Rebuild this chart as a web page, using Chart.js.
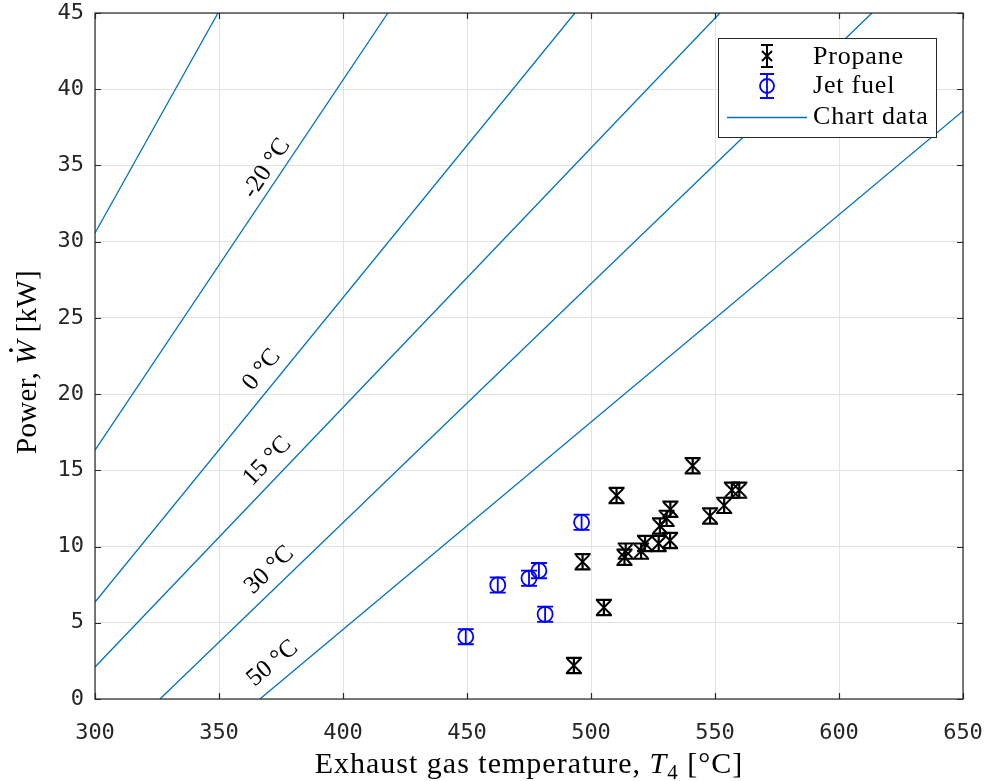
<!DOCTYPE html>
<html>
<head>
<meta charset="utf-8">
<script src="https://cdn.jsdelivr.net/npm/chart.js@4.4.0/dist/chart.umd.min.js"></script>
<style>
  html, body { margin: 0; padding: 0; background: #fff; }
</style>
</head>
<body>
<canvas id="chart" width="991" height="781"></canvas>
<script>
// Exhaust gas temperature [°C] and shaft power [kW] for each run
const propaneTemp  = [493.1, 505.2, 496.6, 510.3, 513.5, 514.0, 520.2, 521.8, 527.3, 531.9, 527.8, 530.5, 532.0, 541.0, 548.0, 553.7, 556.8, 559.8];
const propanePower = [2.2, 6.0, 9.0, 13.35, 9.3, 9.7, 9.7, 10.2, 10.2, 10.4, 11.35, 11.85, 12.45, 15.3, 12.0, 12.7, 13.7, 13.7];
const jetTemp  = [449.5, 462.4, 475.0, 479.0, 481.5, 496.2];
const jetPower = [4.09, 7.48, 7.92, 8.42, 5.56, 11.59];
const powerError = 0.5;

// Manufacturer chart lines, one per ambient temperature (start and end points)
const ambientLabels = ['', '-20 °C', '0 °C', '15 °C', '30 °C', '50 °C'];
const chartLineX = [[300, 349.6], [300, 418.1], [300, 493.5], [300, 552.0], [326.2, 613.3], [366.5, 650]];
const chartLineY = [[30.57, 45], [16.33, 45], [6.36, 45], [2.1, 45], [0, 45], [0, 38.57]];
// where the ambient temperature label of each line sits
const labelX = [null, 369.2, 367.2, 369.5, 370.3, 371.6];
const labelY = [null, 34.8, 21.6, 15.6, 8.46, 2.34];

const lineBlue = '#0072BD';
const axisGrey = '#262626';
const serif = '"Liberation Serif", "DejaVu Serif", serif';

const toPoints = (xs, ys) => xs.map((v, i) => ({ x: v, y: ys[i] }));

const datasets = [
  {
    label: 'Propane',
    data: toPoints(propaneTemp, propanePower),
    pointStyle: 'crossRot',
    pointRadius: 9.5,
    borderColor: '#000',
    backgroundColor: '#000',
    pointBorderWidth: 2,
    errorBars: powerError,
    errorWidth: 2.2
  },
  {
    label: 'Jet fuel',
    data: toPoints(jetTemp, jetPower),
    pointStyle: 'circle',
    pointRadius: 7.5,
    borderColor: '#0000ff',
    backgroundColor: 'rgba(0,0,0,0)',
    pointBorderWidth: 1.8,
    errorBars: powerError,
    errorWidth: 1.8
  }
];

chartLineX.forEach((xs, i) => {
  datasets.push({
    label: 'Chart data',
    data: toPoints(xs, chartLineY[i]),
    showLine: true,
    pointRadius: 0,
    borderColor: lineBlue,
    borderWidth: 1.3,
    fill: false
  });
});

const errorBarPlugin = {
  id: 'errorBars',
  afterDatasetsDraw(chart) {
    const { ctx, scales: { x, y } } = chart;
    chart.data.datasets.forEach(ds => {
      if (!ds.errorBars) return;
      ctx.save();
      ctx.strokeStyle = ds.borderColor;
      ctx.lineWidth = ds.errorWidth;
      ds.data.forEach(p => {
        const px = x.getPixelForValue(p.x);
        const top = y.getPixelForValue(p.y + ds.errorBars);
        const bot = y.getPixelForValue(p.y - ds.errorBars);
        ctx.beginPath();
        ctx.moveTo(px, top); ctx.lineTo(px, bot);
        ctx.moveTo(px - 8, top); ctx.lineTo(px + 8, top);
        ctx.moveTo(px - 8, bot); ctx.lineTo(px + 8, bot);
        ctx.stroke();
      });
      ctx.restore();
    });
  }
};

// draws a run of text pieces (regular/italic/subscript) centred on cx,cy
function drawPieces(ctx, pieces, cx, cy, spacing) {
  ctx.letterSpacing = (spacing || 0) + 'px';
  let total = 0;
  pieces.forEach(p => { ctx.font = p.font; p.w = ctx.measureText(p.text).width; total += p.w; });
  let cur = cx - total / 2;
  ctx.textBaseline = 'alphabetic';
  ctx.textAlign = 'left';
  pieces.forEach(p => {
    ctx.font = p.font;
    ctx.fillText(p.text, cur, cy + (p.dy || 0));
    if (p.dot) {
      ctx.beginPath();
      ctx.arc(cur + p.w / 2 + 2, cy - 25, 1.9, 0, Math.PI * 2);
      ctx.fill();
    }
    cur += p.w;
  });
  ctx.letterSpacing = '0px';
}

const decorPlugin = {
  id: 'decor',
  afterDraw(chart) {
    const { ctx, chartArea: a, scales: { x, y } } = chart;
    ctx.save();

    // axes box with inward ticks on all sides
    ctx.strokeStyle = axisGrey;
    ctx.lineWidth = 1.2;
    ctx.strokeRect(a.left, a.top, a.right - a.left, a.bottom - a.top);
    ctx.beginPath();
    x.ticks.forEach(t => {
      const px = Math.round(x.getPixelForValue(t.value)) + 0.5;
      ctx.moveTo(px, a.bottom); ctx.lineTo(px, a.bottom - 6);
      ctx.moveTo(px, a.top); ctx.lineTo(px, a.top + 6);
    });
    y.ticks.forEach(t => {
      const py = Math.round(y.getPixelForValue(t.value)) + 0.5;
      ctx.moveTo(a.left, py); ctx.lineTo(a.left + 6, py);
      ctx.moveTo(a.right, py); ctx.lineTo(a.right - 6, py);
    });
    ctx.stroke();

    // ambient temperature labels, turned along their line
    ctx.fillStyle = '#000';
    ctx.font = '25px ' + serif;
    ctx.textAlign = 'center';
    ctx.textBaseline = 'middle';
    ambientLabels.forEach((txt, i) => {
      if (!txt) return;
      const x0 = x.getPixelForValue(chartLineX[i][0]), y0 = y.getPixelForValue(chartLineY[i][0]);
      const x1 = x.getPixelForValue(chartLineX[i][1]), y1 = y.getPixelForValue(chartLineY[i][1]);
      const ang = Math.atan2(y1 - y0, x1 - x0);
      ctx.save();
      ctx.translate(x.getPixelForValue(labelX[i]), y.getPixelForValue(labelY[i]));
      ctx.rotate(ang);
      ctx.fillText(txt, 0, 0);
      ctx.restore();
    });

    // axis titles
    ctx.fillStyle = '#000';
    drawPieces(ctx, [
      { text: 'Exhaust gas temperature, ', font: '30px ' + serif },
      { text: 'T', font: 'italic 30px ' + serif },
      { text: '4', font: '21px ' + serif, dy: 6 },
      { text: ' [°C]', font: '30px ' + serif }
    ], (a.left + a.right) / 2, 773, 1);

    ctx.save();
    ctx.translate(36, (a.top + a.bottom) / 2 + 6);
    ctx.rotate(-Math.PI / 2);
    drawPieces(ctx, [
      { text: 'Power, ', font: '29px ' + serif },
      { text: 'W', font: 'italic 29px ' + serif, dot: true },
      { text: ' [kW]', font: '29px ' + serif }
    ], 0, 0, 0.3);
    ctx.restore();

    // legend
    const lx = 718.5, ly = 38.5, lw = 218, lh = 99;
    ctx.fillStyle = '#fff';
    ctx.fillRect(lx, ly, lw, lh);
    ctx.strokeStyle = axisGrey;
    ctx.lineWidth = 1;
    ctx.strokeRect(lx, ly, lw, lh);

    const sx = 767;
    // propane symbol
    ctx.strokeStyle = '#000';
    ctx.lineWidth = 2;
    ctx.beginPath();
    ctx.moveTo(sx, 45); ctx.lineTo(sx, 67);
    ctx.moveTo(sx - 6, 45); ctx.lineTo(sx + 6, 45);
    ctx.moveTo(sx - 6, 67); ctx.lineTo(sx + 6, 67);
    ctx.moveTo(sx - 5, 51); ctx.lineTo(sx + 5, 61);
    ctx.moveTo(sx + 5, 51); ctx.lineTo(sx - 5, 61);
    ctx.stroke();
    // jet fuel symbol
    ctx.strokeStyle = '#0000ff';
    ctx.lineWidth = 1.8;
    ctx.beginPath();
    ctx.moveTo(sx, 74); ctx.lineTo(sx, 98);
    ctx.moveTo(sx - 7, 74); ctx.lineTo(sx + 7, 74);
    ctx.moveTo(sx - 7, 98); ctx.lineTo(sx + 7, 98);
    ctx.stroke();
    ctx.beginPath();
    ctx.arc(sx, 86, 7, 0, Math.PI * 2);
    ctx.stroke();
    // chart data line
    ctx.strokeStyle = lineBlue;
    ctx.lineWidth = 1.3;
    ctx.beginPath();
    ctx.moveTo(727, 117.5); ctx.lineTo(807, 117.5);
    ctx.stroke();

    ctx.fillStyle = '#000';
    ctx.font = '26px ' + serif;
    ctx.letterSpacing = '0.8px';
    ctx.textAlign = 'left';
    ctx.textBaseline = 'middle';
    ctx.fillText('Propane', 813, 57);
    ctx.fillText('Jet fuel', 813, 86);
    ctx.fillText('Chart data', 813, 117);
    ctx.letterSpacing = '0px';

    ctx.restore();
  }
};

new Chart(document.getElementById('chart').getContext('2d'), {
  type: 'scatter',
  data: { datasets },
  plugins: [errorBarPlugin, decorPlugin],
  options: {
    responsive: false,
    animation: false,
    layout: { padding: { top: 13, right: 28, left: 0, bottom: 0 } },
    plugins: { legend: { display: false }, tooltip: { enabled: false } },
    scales: {
      x: {
        type: 'linear',
        min: 300,
        max: 650,
        afterFit: s => { s.height = 82; s.paddingLeft = 0; s.paddingRight = 0; },
        grid: { color: '#e2e2e2', lineWidth: 1, drawTicks: false },
        border: { display: false },
        ticks: {
          stepSize: 50,
          padding: 21,
          color: axisGrey,
          font: { family: '"DejaVu Sans Mono", monospace', size: 22 }
        }
      },
      y: {
        type: 'linear',
        min: 0,
        max: 45,
        afterFit: s => { s.width = 95; s.paddingTop = 0; s.paddingBottom = 0; },
        grid: { color: '#e2e2e2', lineWidth: 1, drawTicks: false },
        border: { display: false },
        ticks: {
          stepSize: 5,
          padding: 11,
          color: axisGrey,
          font: { family: '"DejaVu Sans Mono", monospace', size: 22 }
        }
      }
    }
  }
});
</script>
</body>
</html>
